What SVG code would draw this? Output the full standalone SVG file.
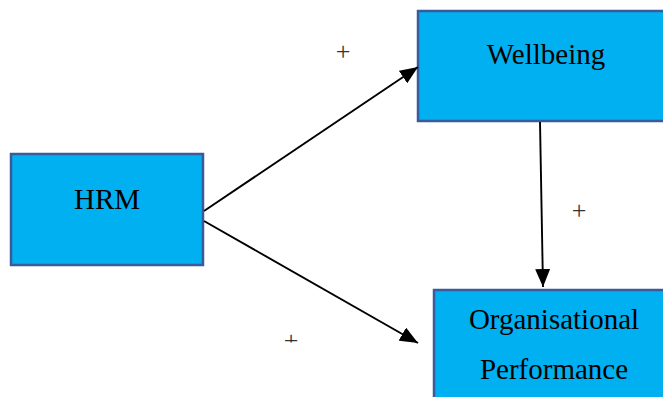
<svg xmlns="http://www.w3.org/2000/svg" width="663" height="397" viewBox="0 0 663 397">
  <style>
    .box { fill: #00b0f0; stroke: #3a5b9a; stroke-width: 2.5; }
    .label { font-family: "Liberation Serif", "Times New Roman", serif; font-size: 29px; fill: #000; text-anchor: middle; }
    .sign { font-family: "Liberation Serif", "Times New Roman", serif; font-size: 26px; fill: #333; text-anchor: middle; }
    .conn { stroke: #000; stroke-width: 1.9; fill: none; marker-end: url(#head); }
  </style>
  <defs>
    <marker id="head" markerUnits="userSpaceOnUse" viewBox="0 0 18 15" refX="18" refY="7.5" markerWidth="18" markerHeight="15" orient="auto">
      <path d="M0,0 L18,7.5 L0,15 Z" fill="#000"/>
    </marker>
    <clipPath id="cut">
      <rect x="270" y="320" width="40" height="22.5"/>
    </clipPath>
  </defs>

  <g id="hrm">
    <rect class="box" x="11" y="154" width="192" height="111"/>
    <text class="label" x="107" y="209">HRM</text>
  </g>

  <g id="wellbeing">
    <rect class="box" x="418" y="11" width="256" height="110"/>
    <text class="label" x="546" y="64">Wellbeing</text>
  </g>

  <g id="performance">
    <rect class="box" x="434" y="290" width="240" height="120"/>
    <text class="label" x="554" y="329">Organisational</text>
    <text class="label" x="554" y="379">Performance</text>
  </g>

  <g id="connectors">
    <line class="conn" x1="204" y1="211" x2="418" y2="67"/>
    <line class="conn" x1="204" y1="221" x2="418" y2="343"/>
    <line class="conn" x1="540" y1="122" x2="543" y2="287"/>
  </g>

  <g id="signs">
    <text class="sign" x="343" y="60">+</text>
    <text class="sign" x="579" y="219">+</text>
    <text class="sign" x="291" y="349" clip-path="url(#cut)">+</text>
  </g>
</svg>
